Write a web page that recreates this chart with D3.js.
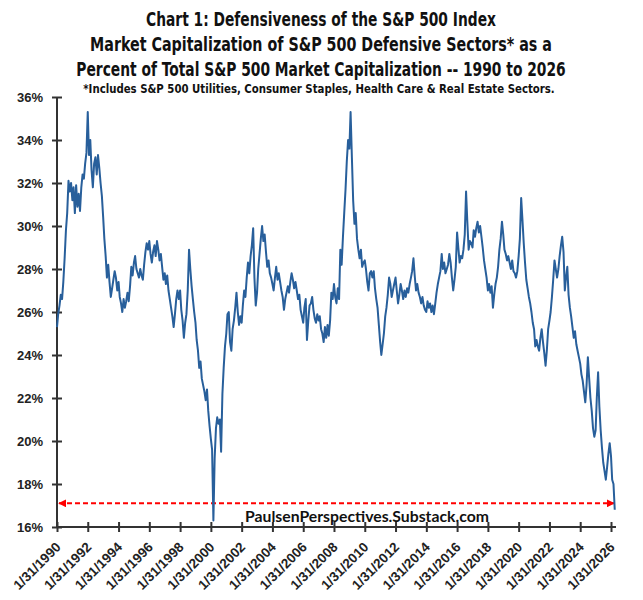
<!DOCTYPE html>
<html>
<head>
<meta charset="utf-8">
<script src="https://cdn.jsdelivr.net/npm/d3@7"></script>
<style>
  body { margin: 0; background: #fff; }
</style>
</head>
<body>
<div id="chart"></div>
<script>
// title text
var titleLines = [
  "Chart 1: Defensiveness of the S&P 500 Index",
  "Market Capitalization of S&P 500 Defensive Sectors* as a",
  "Percent of Total S&P 500 Market Capitalization -- 1990 to 2026"
];
var footnote = "*Includes S&P 500 Utilities, Consumer Staples, Health Care & Real Estate Sectors.";
var watermark = "PaulsenPerspectives.Substack.com";

// monthly readings (month-end), Jan 1990 onwards, % of S&P 500 market cap
var startYear = 1990;
var values = [
  // 1990
  25.3, 25.9, 26.3, 26.8, 26.6, 27.4, 28.5, 29.8, 30.6, 32.1, 31.6, 32.0,
  // 1991
  31.2, 31.8, 30.6, 31.9, 30.9, 31.5, 30.7, 31.8, 32.4, 32.2, 32.9, 33.4,
  // 1992
  35.3, 33.3, 34.0, 32.6, 31.8, 32.9, 33.2, 32.4, 33.3, 32.7, 32.0, 31.4,
  // 1993
  30.4, 29.4, 28.6, 27.6, 28.2, 27.4, 26.7, 27.1, 27.5, 27.9, 27.6, 27.0,
  // 1994
  27.4, 26.7, 26.4, 26.0, 26.6, 26.2, 26.5, 26.9, 26.5, 27.2, 28.1, 27.7,
  // 1995
  28.3, 28.6, 28.0, 27.8, 27.6, 28.0, 27.7, 27.5, 28.2, 28.8, 29.2, 28.9,
  // 1996
  29.3, 28.7, 28.3, 28.8, 29.1, 28.6, 29.3, 28.9, 28.4, 28.7, 28.1, 27.5,
  // 1997
  27.8, 27.3, 27.7, 27.0, 26.6, 26.2, 25.8, 25.3, 25.9, 26.6, 27.0, 26.6,
  // 1998
  27.0, 26.1, 25.6, 24.8, 25.5, 25.9, 27.0, 28.9, 28.0, 27.2, 26.6, 26.0,
  // 1999
  25.5, 24.7, 24.2, 23.4, 23.7, 22.9, 22.6, 22.3, 21.9, 22.4, 21.4, 20.7,
  // 2000
  20.1, 19.6, 16.3, 19.2, 20.6, 21.1, 20.8, 21.0, 19.5, 22.2, 23.4, 24.4,
  // 2001
  25.0, 25.9, 26.0, 24.6, 24.2, 25.2, 25.6, 26.2, 26.9, 26.0, 25.4, 25.8,
  // 2002
  25.5, 26.3, 27.0, 26.7, 27.6, 28.3, 27.8, 28.6, 29.1, 29.9, 27.6, 26.3,
  // 2003
  26.9, 28.0, 28.7, 29.4, 30.0, 29.3, 29.6, 28.8, 28.1, 28.4, 27.8, 27.6,
  // 2004
  27.3, 27.0, 27.6, 28.1, 27.5, 27.8, 27.4, 27.0, 26.7, 26.1, 26.6, 26.9,
  // 2005
  27.2, 26.9, 27.4, 27.8, 27.5, 27.1, 27.4, 27.0, 26.6, 26.8, 26.1, 25.8,
  // 2006
  25.5, 26.2, 26.6, 24.7, 25.6, 26.3, 26.4, 26.7, 26.1, 25.7, 25.5, 25.9,
  // 2007
  25.6, 25.8, 25.2, 25.0, 24.6, 25.3, 24.8, 25.4, 24.9, 25.6, 26.9, 26.6,
  // 2008
  27.3, 26.7, 26.4, 27.1, 26.6, 28.9, 28.2, 29.5, 30.6, 31.7, 33.0, 34.0,
  // 2009
  33.6, 35.3, 33.2, 31.2, 30.1, 30.6, 29.4, 28.9, 28.5, 28.9, 28.1, 28.3,
  // 2010
  28.4, 28.0, 27.4, 27.0, 27.8, 27.9, 27.6, 27.9, 27.1, 26.6, 26.2, 25.4,
  // 2011
  24.6, 24.0, 24.5, 25.0, 25.8, 26.2, 26.8, 27.6, 27.3, 26.7, 27.0, 27.3,
  // 2012
  27.6, 27.0, 26.4, 26.8, 27.3, 27.0, 26.6, 27.0, 26.7, 27.1, 26.9, 27.3,
  // 2013
  27.6, 27.9, 28.5, 27.7, 27.0, 27.3, 26.9, 26.7, 26.4, 26.7, 26.3, 26.1,
  // 2014
  26.0, 26.5, 26.2, 26.4, 26.0, 26.3, 25.9, 26.4, 26.9, 27.3, 27.6, 27.9,
  // 2015
  28.7, 28.0, 28.3, 27.8, 28.0, 28.2, 28.7, 28.3, 27.6, 27.0, 27.5, 28.1,
  // 2016
  29.7, 29.0, 28.3, 28.6, 28.5, 28.9, 29.6, 31.6, 30.2, 28.9, 29.3, 29.2,
  // 2017
  29.0, 29.8, 29.5, 29.9, 30.2, 29.7, 30.0, 29.5, 29.0, 28.4, 28.0, 27.6,
  // 2018
  27.0, 27.3, 26.9, 27.2, 26.2, 26.8, 27.3, 27.6, 28.1, 28.9, 29.4, 30.2,
  // 2019
  29.6, 28.9, 28.7, 28.4, 28.6, 28.3, 28.0, 28.4, 27.9, 27.8, 27.6, 27.9,
  // 2020
  28.6, 29.4, 31.3, 30.3, 29.2, 28.3, 27.5, 27.1, 26.7, 26.4, 26.0, 25.5,
  // 2021
  25.2, 24.4, 24.7, 24.4, 24.2, 24.8, 25.2, 24.6, 24.1, 23.5, 24.2, 25.2,
  // 2022
  25.6, 26.0, 26.7, 27.5, 28.4, 28.0, 27.6, 28.0, 28.6, 29.1, 29.5, 28.8,
  // 2023
  27.0, 27.6, 28.1, 26.8, 26.2, 25.8, 25.3, 24.8, 25.1, 24.5, 24.2, 23.9,
  // 2024
  23.6, 23.1, 22.8, 22.3, 21.8, 22.6, 23.9, 22.9, 22.0, 21.4, 20.6, 20.2,
  // 2025
  20.5, 22.0, 23.2, 21.6, 20.5, 19.7, 19.0, 18.6, 18.2, 18.8, 19.4, 19.9,
  // 2026
  19.3, 18.2, 18.0, 16.8
];

var yTicks = [16, 18, 20, 22, 24, 26, 28, 30, 32, 34, 36];
var xTickYears = d3.range(1990, 2027, 2);
var guideLevel = 17.1;

var width = 643, height = 600;
var margin = {top: 97, right: 32, bottom: 73, left: 57};

var data = values.map(function (v, i) {
  var yr = startYear + Math.floor(i / 12);
  var m = i % 12;
  return {date: new Date(yr, m + 1, 0), value: v};
});

var svg = d3.select("#chart").append("svg")
  .attr("width", width)
  .attr("height", height)
  .style("font-family", "'Liberation Sans', Arial, sans-serif");

var x = d3.scaleTime()
  .domain([new Date(1990, 0, 31), new Date(2026, 0, 31)])
  .range([margin.left, 611]);

var y = d3.scaleLinear()
  .domain([16, 36])
  .range([527, margin.top]);

// narrow bold text: squeeze horizontally to the width seen in the chart
function narrowText(str, cx, cy, size, targetW) {
  var t = svg.append("text")
    .attr("text-anchor", "middle")
    .style("font-family", "'Liberation Sans Narrow', 'DejaVu Sans Condensed', sans-serif")
    .style("font-weight", "bold")
    .style("font-size", size + "px")
    .style("fill", "#111")
    .text(str);
  var w = t.node().getComputedTextLength();
  var sx = Math.min(1, targetW / w);
  t.attr("transform", "translate(" + cx + "," + cy + ") scale(" + sx + ",1)");
  return t;
}

var titleY = [26, 51, 76];
var titleW = [350, 462, 490];
titleLines.forEach(function (t, i) {
  narrowText(t, 321, titleY[i], 19, titleW[i]);
});
narrowText(footnote, 319, 93, 12.5, 472);

// y axis
var yAxis = svg.append("g")
  .attr("transform", "translate(" + margin.left + ",0)")
  .call(d3.axisLeft(y).tickValues(yTicks).tickSize(5).tickFormat(function (d) { return d + "%"; }));
yAxis.select(".domain").remove();
yAxis.selectAll(".tick line").attr("x1", -5).attr("x2", 5)
  .attr("stroke", "#333").attr("stroke-width", 2);
yAxis.selectAll(".tick text")
  .attr("x", -14)
  .style("font-size", "13px")
  .style("font-weight", "bold")
  .style("fill", "#222");

// x axis
var xAxis = svg.append("g")
  .attr("transform", "translate(0,527)")
  .call(d3.axisBottom(x)
    .tickValues(xTickYears.map(function (yr) { return new Date(yr, 0, 31); }))
    .tickSize(5)
    .tickFormat(d3.timeFormat("%-m/%-d/%Y")));
xAxis.select(".domain").remove();
xAxis.selectAll(".tick line").attr("y1", -5).attr("y2", 5)
  .attr("stroke", "#333").attr("stroke-width", 2);
xAxis.selectAll(".tick text")
  .attr("x", 0).attr("y", 0).attr("dy", null)
  .attr("text-anchor", "end")
  .attr("transform", "translate(4,21) rotate(-45)")
  .style("font-size", "13.5px")
  .style("font-weight", "bold")
  .style("fill", "#222");

// axis lines
svg.append("line")
  .attr("x1", margin.left).attr("x2", margin.left)
  .attr("y1", margin.top).attr("y2", 528)
  .attr("stroke", "#333").attr("stroke-width", 2);
svg.append("line")
  .attr("x1", margin.left - 1).attr("x2", 616)
  .attr("y1", 527).attr("y2", 527)
  .attr("stroke", "#333").attr("stroke-width", 2);

// red dashed guide with arrows
var defs = svg.append("defs");
defs.append("marker")
  .attr("id", "arrowEnd")
  .attr("viewBox", "0 0 10 10")
  .attr("refX", 9).attr("refY", 5)
  .attr("markerWidth", 4).attr("markerHeight", 4)
  .attr("orient", "auto-start-reverse")
  .append("path")
  .attr("d", "M0,0 L10,5 L0,10 z")
  .attr("fill", "#ff0000");

svg.append("line")
  .attr("x1", margin.left + 2).attr("x2", 614)
  .attr("y1", y(guideLevel)).attr("y2", y(guideLevel))
  .attr("stroke", "#ff0000")
  .attr("stroke-width", 2)
  .attr("stroke-dasharray", "5,3")
  .attr("marker-start", "url(#arrowEnd)")
  .attr("marker-end", "url(#arrowEnd)");

// watermark
svg.append("text")
  .attr("x", 367)
  .attr("y", 522)
  .attr("text-anchor", "middle")
  .attr("textLength", 244)
  .attr("lengthAdjust", "spacingAndGlyphs")
  .style("font-family", "Lato, 'Open Sans', sans-serif")
  .style("font-weight", "bold")
  .style("font-size", "16px")
  .style("fill", "#111")
  .text(watermark);

// series line
var line = d3.line()
  .x(function (d) { return x(d.date); })
  .y(function (d) { return y(d.value); });

svg.append("path")
  .datum(data)
  .attr("fill", "none")
  .attr("stroke", "#285f9b")
  .attr("stroke-width", 2)
  .attr("stroke-linejoin", "round")
  .attr("d", line);
</script>
</body>
</html>
